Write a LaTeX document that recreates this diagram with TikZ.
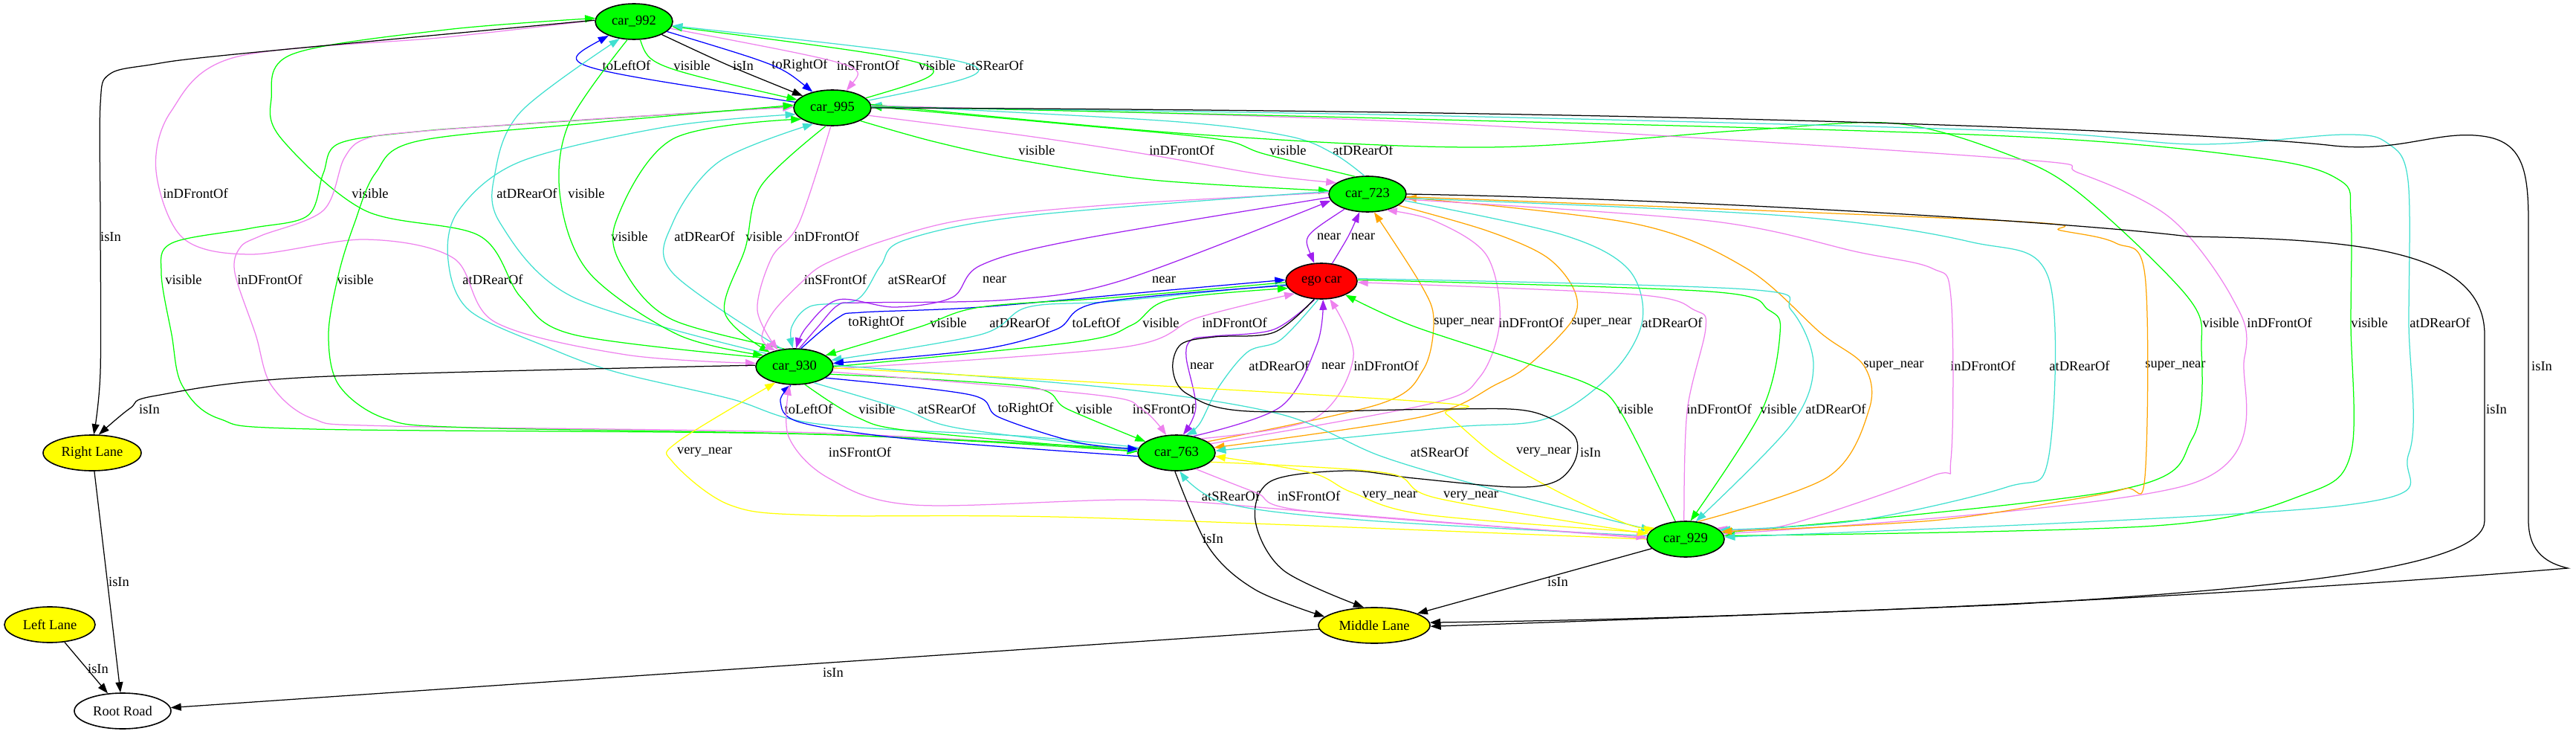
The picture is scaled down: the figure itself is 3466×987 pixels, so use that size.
\documentclass[tikz,border=0pt]{standalone}
\usepackage{fontspec}
\setmainfont{Liberation Serif}
\usetikzlibrary{shapes.geometric,arrows.meta,calc}
\definecolor{gvgreen}{HTML}{00FF00}
\definecolor{gvturq}{HTML}{40E0D0}
\definecolor{gvviolet}{HTML}{EE82EE}
\definecolor{gvpurple}{HTML}{A020F0}
\definecolor{gvblue}{HTML}{0000FF}
\definecolor{gvorange}{HTML}{FFA500}
\definecolor{gvyellow}{HTML}{FFFF00}
\definecolor{gvred}{HTML}{FF0000}
\newcommand\eb[4]{\draw[#1] (#2) .. controls ($1.3333*(#4.west)-0.16667*(#2)-0.16667*(#3)+(-6,0)$) .. (#3);}
\newcommand\ep[2]{\draw[#1] plot[smooth,tension=0.55] coordinates {#2};}
\tikzset{
  car/.style={ellipse, draw=black, line width=1.6pt, fill=gvgreen, minimum width=104pt, minimum height=48pt, inner sep=0pt},
  lane/.style={car, fill=gvyellow},
  lbl/.style={inner sep=0pt},
  gvedge/.style={line width=1.25pt, -{Triangle[length=14pt,width=10pt]}},
  eBlack/.style={gvedge, draw=black, fill=none},
  eGreen/.style={gvedge, draw=gvgreen},
  eCyan/.style={gvedge, draw=gvturq},
  eViolet/.style={gvedge, draw=gvviolet},
  ePurple/.style={gvedge, draw=gvpurple},
  eBlue/.style={gvedge, draw=gvblue},
  eOrange/.style={gvedge, draw=gvorange},
  eYellow/.style={gvedge, draw=gvyellow}
}
\begin{document}
\begin{tikzpicture}[x=1pt,y=-1pt,font=\fontsize{18.5}{20}\selectfont]
\useasboundingbox (0,0) rectangle (3466,987);
% nodes
\node[car] (c992) at (853,29) {car\_992};
\node[car] (c995) at (1120,145) {car\_995};
\node[car] (c723) at (1840,261) {car\_723};
\node[car, fill=gvred, minimum width=96pt] (ego) at (1778,378) {ego car};
\node[car] (c930) at (1069,493) {car\_930};
\node[car] (c763) at (1583,609) {car\_763};
\node[car] (c929) at (2268,725) {car\_929};
\node[lane, minimum width=150pt] (ml) at (1849,841) {Middle Lane};
\node[lane, minimum width=132pt] (rl) at (124,609) {Right Lane};
\node[lane, minimum width=122pt] (ll) at (67,840) {Left Lane};
\node[lane, fill=white, minimum width=130pt] (rr) at (165,956) {Root Road};
% labels
\node[lbl] (l88a) at (843,88) {toLeftOf};
\node[lbl] (l88b) at (931,88) {visible};
\node[lbl] (l88c) at (1000,88) {isIn};
\node[lbl] (l88d) at (1076,88) {toRightOf};
\node[lbl] (l88e) at (1168,88) {inSFrontOf};
\node[lbl] (l88f) at (1261,88) {visible};
\node[lbl] (l88g) at (1338,88) {atSRearOf};
\node[lbl] (l202a) at (1395,202) {visible};
\node[lbl] (l202b) at (1590,202) {inDFrontOf};
\node[lbl] (l202c) at (1733,202) {visible};
\node[lbl] (l202d) at (1834,202) {atDRearOf};
\node[lbl] (l260a) at (263,260) {inDFrontOf};
\node[lbl] (l260b) at (498,260) {visible};
\node[lbl] (l260c) at (709,260) {atDRearOf};
\node[lbl] (l260d) at (789,260) {visible};
\node[lbl] (l318a) at (149,318) {isIn};
\node[lbl] (l318b) at (847,318) {visible};
\node[lbl] (l318c) at (948,318) {atDRearOf};
\node[lbl] (l318d) at (1028,318) {visible};
\node[lbl] (l318e) at (1112,318) {inDFrontOf};
\node[lbl] (l318f) at (1788,318) {near};
\node[lbl] (l318g) at (1834,318) {near};
\node[lbl] (l376a) at (247,376) {visible};
\node[lbl] (l376b) at (363,376) {inDFrontOf};
\node[lbl] (l376c) at (478,376) {visible};
\node[lbl] (l376d) at (663,376) {atDRearOf};
\node[lbl] (l376e) at (1124,376) {inSFrontOf};
\node[lbl] (l376f) at (1234,376) {atSRearOf};
\node[lbl] (l376g) at (1338,376) {near};
\node[lbl] (l376h) at (1566,376) {near};
\node[lbl] (l434a) at (1179,434) {toRightOf};
\node[lbl] (l434b) at (1276,434) {visible};
\node[lbl] (l434c) at (1372,434) {atDRearOf};
\node[lbl] (l434d) at (1475,434) {toLeftOf};
\node[lbl] (l434e) at (1562,434) {visible};
\node[lbl] (l434f) at (1661,434) {inDFrontOf};
\node[lbl] (l434g) at (1970,434) {super\_near};
\node[lbl] (l434h) at (2060,434) {inDFrontOf};
\node[lbl] (l434i) at (2155,434) {super\_near};
\node[lbl] (l434j) at (2250,434) {atDRearOf};
\node[lbl] (l434k) at (2988,434) {visible};
\node[lbl] (l434l) at (3067,434) {inDFrontOf};
\node[lbl] (l434m) at (3188,434) {visible};
\node[lbl] (l434n) at (3283,434) {atDRearOf};
\node[lbl] (l492a) at (1617,492) {near};
\node[lbl] (l492b) at (1721,492) {atDRearOf};
\node[lbl] (l492c) at (1794,492) {near};
\node[lbl] (l492d) at (1865,492) {inDFrontOf};
\node[lbl] (l492e) at (2548,492) {super\_near};
\node[lbl] (l492f) at (2668,492) {inDFrontOf};
\node[lbl] (l492g) at (2798,492) {atDRearOf};
\node[lbl] (l492h) at (2927,492) {super\_near};
\node[lbl] (l492i) at (3420,492) {isIn};
\node[lbl] (l550a) at (201,550) {isIn};
\node[lbl] (l550b) at (1088,550) {toLeftOf};
\node[lbl] (l550c) at (1180,550) {visible};
\node[lbl] (l550d) at (1274,550) {atSRearOf};
\node[lbl] (l550e) at (1380,550) {toRightOf};
\node[lbl] (l550f) at (1472,550) {visible};
\node[lbl] (l550g) at (1566,550) {inSFrontOf};
\node[lbl] (l550h) at (2200,550) {visible};
\node[lbl] (l550i) at (2313,550) {inDFrontOf};
\node[lbl] (l550j) at (2393,550) {visible};
\node[lbl] (l550k) at (2470,550) {atDRearOf};
\node[lbl] (l550l) at (3359,550) {isIn};
\node[lbl] (l608a) at (948,608) {very\_near};
\node[lbl] (l608b) at (1157,608) {inSFrontOf};
\node[lbl] (l608c) at (1937,608) {atSRearOf};
\node[lbl] (l608d) at (2077,608) {very\_near};
\node[lbl] (l608e) at (2140,608) {isIn};
\node[lbl] (l667a) at (1656,667) {atSRearOf};
\node[lbl] (l667b) at (1761,667) {inSFrontOf};
\node[lbl] (l667c) at (1870,667) {very\_near};
\node[lbl] (l667d) at (1979,667) {very\_near};
\node[lbl] (l724a) at (1632,724) {isIn};
\node[lbl] (l782a) at (160,782) {isIn};
\node[lbl] (l782b) at (2096,782) {isIn};
\node[lbl] (l899a) at (132,899) {isIn};
\node[lbl] (l899b) at (1121,904) {isIn};
% row 88
\eb{eBlue}{c995}{c992}{l88a}
\eb{eGreen}{c992}{c995}{l88b}
\eb{eBlack}{c992}{c995}{l88c}
\eb{eBlue}{c992}{c995}{l88d}
\eb{eViolet}{c992}{c995}{l88e}
\eb{eGreen}{c995}{c992}{l88f}
\eb{eCyan}{c995}{c992}{l88g}
% row 202
\ep{eGreen}{(c995.-25) (1255,190) (1370,215) (1550,242) (c723.175)}
\ep{eViolet}{(c995.-12) (1383,183) (1546,208) (1700,235) (c723.160)}
\ep{eGreen}{(c723.125) (1701,207) (1638,187) (1446,168) (c995.2)}
\ep{eCyan}{(c723.100) (1795,207) (1733,183) (1574,163) (c995.4)}
% row 260
\ep{eViolet}{(c992.178) (600,50) (316,77) (230,150) (210,230) (246,320) (337,342) (491,322) (610,347) (666,433) (842,477) (c930.175)}
\ep{eGreen}{(c930.165) (772,450) (701,400) (645,317) (491,283) (379,187) (365,133) (393,73) (600,40) (c992.175)}
\ep{eCyan}{(c930.155) (772,400) (673,300) (666,233) (701,150) (c992.-130)}
\ep{eGreen}{(c992.-110) (765,167) (754,267) (793,367) (912,450) (c930.160)}
% row 318
\ep{eBlack}{(c992.178) (316,73) (203,87) (147,100) (135,140) (135,300) (135,500) (rl.85)}
\ep{eGreen}{(c930.120) (905,430) (842,367) (828,300) (905,187) (c995.-160)}
\ep{eCyan}{(c930.125) (905,367) (905,300) (968,217) (c995.-140)}
\ep{eGreen}{(c995.-110) (1024,250) (1003,333) (975,420) (c930.150)}
\ep{eViolet}{(c995.-95) (1075,300) (1038,347) (1019,417) (c930.135)}
\eb{ePurple}{c723}{ego}{l318f}
\eb{ePurple}{ego}{c723}{l318g}
% row 376
\ep{eGreen}{(c763.178) (1100,584) (421,577) (295,563) (245,518) (231,450) (217,367) (231,327) (337,307) (414,290) (435,233) (456,193) (561,177) (701,167) (c995.178)}
\ep{eViolet}{(c763.176) (1100,582) (526,573) (421,563) (365,518) (344,450) (316,367) (323,333) (351,317) (435,283) (463,213) (491,187) (561,177) (800,160) (c995.179)}
\ep{eGreen}{(c763.174) (1100,584) (631,575) (519,563) (456,518) (442,450) (456,367) (477,300) (505,233) (561,190) (800,165) (c995.176)}
\ep{eCyan}{(c763.172) (1383,587) (1100,570) (982,536) (828,500) (737,467) (631,417) (603,350) (617,283) (701,217) (900,170) (c995.-170)}
\ep{eViolet}{(c723.178) (1500,275) (1300,295) (1191,323) (1110,355) (1078,380) (1040,420) (1025,455) (c930.140)}
\ep{eCyan}{(c723.176) (1383,290) (1217,323) (1185,357) (1153,403) (1090,412) (1065,440) (c930.95)}
\ep{ePurple}{(c723.185) (1446,323) (1319,357) (1281,400) (1204,413) (1128,403) (1085,440) (c930.85)}
\ep{ePurple}{(c930.75) (1100,440) (1128,410) (1160,407) (1357,403) (1510,377) (c723.190)}
% row 434
\ep{eBlue}{(c930.70) (1128,427) (1160,420) (1319,413) (1574,390) (ego.178)}
\ep{eGreen}{(ego.182) (1500,400) (1319,413) (1236,440) (c930.20)}
\ep{eCyan}{(ego.185) (1500,405) (1383,413) (1319,450) (c930.10)}
\ep{eBlue}{(ego.187) (1478,407) (1421,443) (1319,470) (c930.5)}
\ep{eGreen}{(c930.0) (1446,460) (1523,437) (1574,403) (ego.192)}
\ep{eViolet}{(c930.-3) (1510,467) (1612,427) (ego.205)}
\ep{eOrange}{(c763.20) (1857,543) (1915,497) (1929,430) (1912,383) (c723.-70)}
\ep{eViolet}{(c763.15) (1924,543) (1991,507) (2018,430) (2000,343) (1930,297) (c723.-40)}
\ep{eOrange}{(c723.-20) (2000,310) (2080,345) (2118,390) (2116,430) (2058,490) (2013,517) (1915,560) (c763.8)}
\ep{eCyan}{(c723.-10) (2100,315) (2190,361) (2210,430) (2170,501) (2080,563) (1946,575) (c763.3)}
\ep{eGreen}{(c995.5) (1600,180) (2000,198) (2350,175) (2550,166) (2700,207) (2798,260) (2944,400) (2962,470) (2950,589) (2850,659) (c929.10)}
\ep{eViolet}{(c995.3) (1900,164) (2700,213) (2798,233) (2920,293) (3003,400) (3020,480) (2950,650) (c929.8)}
\ep{eGreen}{(c995.2) (1900,160) (2700,183) (3042,213) (3149,243) (3163,290) (3163,434) (3163,610) (3100,665) (2900,707) (c929.5)}
\ep{eCyan}{(c995.1) (1900,155) (2700,176) (2954,194) (3154,181) (3213,193) (3240,243) (3241,434) (3241,610) (3150,680) (c929.3)}
\draw[eBlack] (c995.0) .. controls (2500,150) and (3050,185) .. (3140,196) .. controls (3230,205) and (3280,175) .. (3340,183) .. controls (3395,190) and (3402,230) .. (3402,300) -- (3402,700) .. controls (3402,745) and (3430,758) .. (3455,764) .. controls (3150,790) and (2500,830) .. (ml.3);
% row 492
\ep{ePurple}{(ego.-110) (1714,443) (1634,452) (1603,457) (1596,480) (1609,547) (c763.70)}
\ep{eCyan}{(ego.-100) (1723,457) (1679,473) (1640,520) (1614,570) (c763.62)}
\ep{ePurple}{(c763.45) (1723,547) (1772,463) (ego.-85)}
\ep{eViolet}{(c763.30) (1768,563) (1821,480) (ego.-65)}
\ep{eOrange}{(c929.55) (2460,641) (2515,550) (2508,492) (2450,448) (2350,361) (2200,301) (c723.-5)}
\ep{eViolet}{(c723.-8) (2300,297) (2500,339) (2600,361) (2625,400) (2625,617) (2600,640) (2400,707) (c929.20)}
\ep{eCyan}{(c723.-6) (2400,290) (2650,325) (2756,373) (2756,617) (2700,655) (2500,700) (c929.15)}
\ep{eOrange}{(c723.-4) (2700,297) (2773,310) (2847,327) (2886,370) (2886,641) (2860,657) (2780,673) (2600,700) (c929.12)}
% row 550
\ep{eBlack}{(c930.178) (421,507) (210,532) (175,549) (rl.70)}
\ep{eBlue}{(c763.185) (1230,591) (1077,568) (1050,540) (c930.-100)}
\ep{eGreen}{(c930.-60) (1153,561) (1230,580) (c763.178)}
\ep{eCyan}{(c930.-40) (1214,550) (1291,576) (c763.176)}
\ep{eBlue}{(c930.-20) (1306,531) (1344,561) (1450,595) (c763.174)}
\ep{eGreen}{(c930.-12) (1383,520) (1436,550) (c763.160)}
\ep{eViolet}{(c930.-8) (1474,531) (1536,550) (c763.120)}
\ep{eGreen}{(c929.120) (2180,553) (2140,518) (2050,487) (1900,438) (ego.-30)}
\ep{eViolet}{(c929.95) (2270,553) (2295,441) (2280,417) (2200,396) (ego.-2)}
\ep{eGreen}{(ego.2) (2300,392) (2380,417) (2395,448) (2370,553) (c929.75)}
\ep{eCyan}{(ego.4) (2350,389) (2410,417) (2440,490) (2410,571) (c929.60)}
\draw[eBlack] (c723.0) .. controls (2300,268) and (2800,300) .. (2944,318) .. controls (3150,322) and (3343,330) .. (3343,450) -- (3343,700) .. controls (3343,760) and (3100,790) .. (2700,813) .. controls (2300,830) and (2050,838) .. (ml.-1);
% row 608
\ep{eYellow}{(c929.180) (1459,696) (1100,693) (982,679) (905,621) (912,594) (c930.-140)}
\ep{eViolet}{(c929.179) (1765,688) (1536,672) (1230,679) (1115,643) (1061,587) (c930.-105)}
\ep{eCyan}{(c930.2) (1500,522) (1723,557) (1857,613) (1991,653) (2150,695) (c929.165)}
\ep{eYellow}{(c930.-2) (1915,540) (1946,557) (2013,613) (2094,660) (2190,705) (c929.160)}
\ep{eBlack}{(ego.-112) (1714,447) (1634,453) (1589,463) (1578,497) (1598,530) (1679,553) (1946,550) (2058,553) (2116,583) (2120,617) (2094,647) (2036,655) (1902,643) (1812,633) (1710,647) (1689,700) (1727,767) (ml.120)}
% row 667
\ep{eCyan}{(c929.175) (1842,700) (1650,677) (c763.-80)}
\ep{eViolet}{(c763.-40) (1689,662) (1765,688) (c929.177)}
\ep{eYellow}{(c929.170) (1918,692) (1819,662) (1765,636) (c763.-5)}
\ep{eYellow}{(c763.-15) (1865,636) (1934,670) (c929.172)}
% lower
\ep{eBlack}{(c763.-95) (1627,737) (1689,793) (ml.170)}
\draw[eBlack] (c929) -- (ml);
\draw[eBlack] (rl) -- (rr);
\draw[eBlack] (ll) -- (rr);
\draw[eBlack] (ml) -- (rr);
\end{tikzpicture}
\end{document}
